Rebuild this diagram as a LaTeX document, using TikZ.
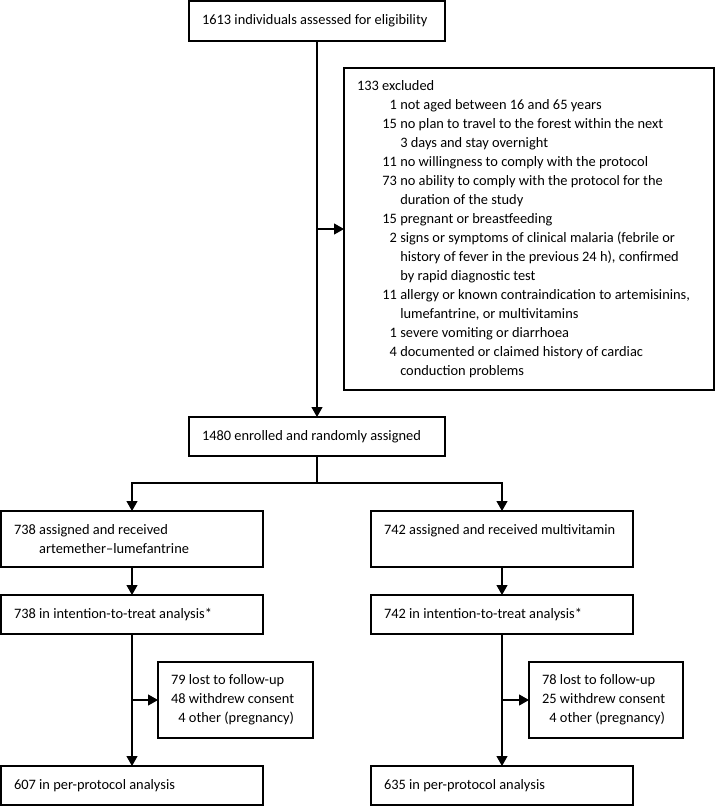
\documentclass[tikz,border=0pt]{standalone}
\usepackage{fontspec}
\setmainfont{Carlito}
\usepackage{tikz}
\usetikzlibrary{arrows.meta, calc}

\newcommand{\nm}[1]{\makebox[40pt][r]{#1}\ }
\newcommand{\nmb}[1]{\makebox[1.02em][r]{#1}\ }

\begin{document}
\begin{tikzpicture}[
    x=1pt, y=-1pt,
    box/.style={draw, line width=1.2pt, anchor=north west, outer sep=0pt, inner xsep=13pt, inner ysep=0pt, align=flush left, font=\fontsize{14.4pt}{19pt}\selectfont},
    arrow/.style={-{Triangle[length=10pt, width=11pt]}, line width=1.2pt}
]
    \useasboundingbox (0,0) rectangle (715,806);

    \node[box, text width=230pt, minimum height=40pt] (elig) at (189,1) {1613 individuals assessed for eligibility};
    \node[box, text width=344pt, minimum height=322pt] (excl) at (344,68) {133 excluded\\
        \nm{1}not aged between 16 and 65 years\\
        \nm{15}no plan to travel to the forest within the next\\
        \nm{}3 days and stay overnight\\
        \nm{11}no willingness to comply with the protocol\\
        \nm{73}no ability to comply with the protocol for the\\
        \nm{}duration of the study\\
        \nm{15}pregnant or breastfeeding\\
        \nm{2}signs or symptoms of clinical malaria (febrile or\\
        \nm{}history of fever in the previous 24 h), confirmed\\
        \nm{}by rapid diagnostic test\\
        \nm{11}allergy or known contraindication to artemisinins,\\
        \nm{}lumefantrine, or multivitamins\\
        \nm{1}severe vomiting or diarrhoea\\
        \nm{4}documented or claimed history of cardiac\\
        \nm{}conduction problems};
    \node[box, text width=230pt, minimum height=39pt] (enrol) at (189,417) {1480 enrolled and randomly assigned};

    \node[box, text width=236pt, minimum height=56pt] (assAL) at (1,511) {738 assigned and received\\\phantom{738}\ artemether–lumefantrine};
    \node[box, text width=236pt, minimum height=56pt] (assMV) at (371,511) {742 assigned and received multivitamin\\\mbox{}};

    \node[box, text width=236pt, minimum height=39pt] (ittAL) at (1,595) {738 in intention-to-treat analysis*};
    \node[box, text width=236pt, minimum height=39pt] (ittMV) at (371,595) {742 in intention-to-treat analysis*};

    \node[box, text width=129pt, minimum height=76pt] (lostAL) at (158,662) {\nmb{79}lost to follow-up\\\nmb{48}withdrew consent\\\nmb{4}other (pregnancy)};
    \node[box, text width=128pt, minimum height=76pt] (lostMV) at (529,662) {\nmb{78}lost to follow-up\\\nmb{25}withdrew consent\\\nmb{4}other (pregnancy)};

    \node[box, text width=236pt, minimum height=39pt] (ppAL) at (1,766) {607 in per-protocol analysis};
    \node[box, text width=236pt, minimum height=39pt] (ppMV) at (371,766) {635 in per-protocol analysis};

    \draw[arrow] (elig.south) -- (enrol.north);
    \draw[arrow] (elig.south |- excl.west) -- (excl.west);

    \draw[line width=1.2pt] (enrol.south) -- ++(0,27) coordinate (split);
    \draw[arrow] (split) -| (assAL.north);
    \draw[arrow] (split) -| (assMV.north);

    \draw[arrow] (assAL.south) -- (ittAL.north);
    \draw[arrow] (assMV.south) -- (ittMV.north);

    \draw[arrow] (ittAL.south) -- (ppAL.north);
    \draw[arrow] (ittAL.south |- lostAL.west) -- (lostAL.west);
    \draw[arrow] (ittMV.south) -- (ppMV.north);
    \draw[arrow] (ittMV.south |- lostMV.west) -- (lostMV.west);
\end{tikzpicture}
\end{document}
